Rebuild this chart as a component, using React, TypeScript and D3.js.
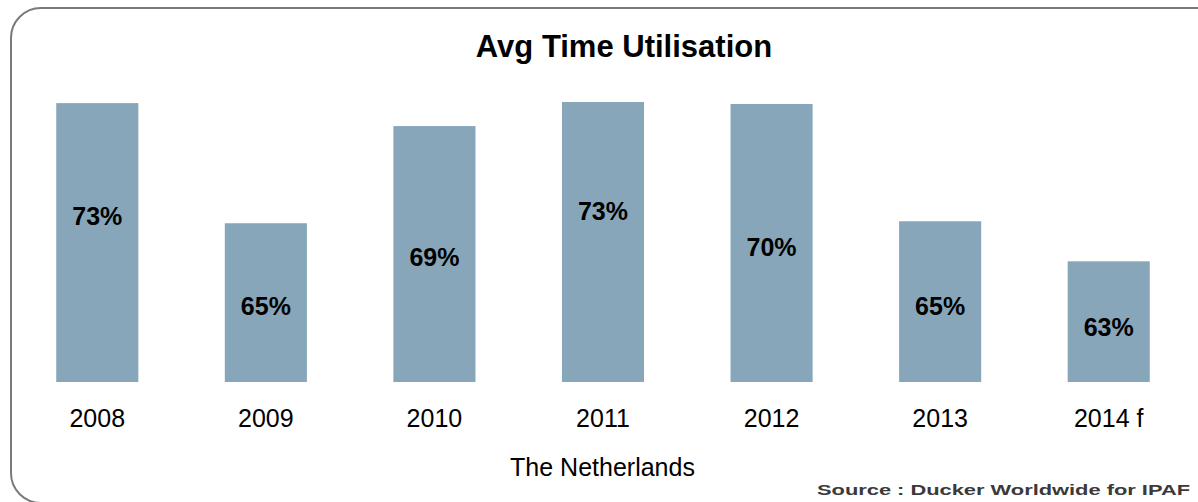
import React from "react";
import * as d3 from "d3";

// ---- data ----
const categories = ["2008", "2009", "2010", "2011", "2012", "2013", "2014 f"];
// utilisation values (labels show the rounded value)
const utilisation = [72.9, 65.0, 69.3, 73.3, 70.2, 65.0, 63.2];
// bar heights as drawn in the source (index, max = 100)
const barIndex = [99.6, 56.7, 91.4, 100, 99.3, 57.4, 43.1];
const titleText = "Avg Time Utilisation";
const axisTitle = "The Netherlands";
const sourceText = "Source : Ducker Worldwide for IPAF";

const W = 1198;
const H = 502;
const FONT = "Arial, 'Liberation Sans', Helvetica, sans-serif";

export default function App() {
  const x = d3
    .scaleBand<string>()
    .domain(categories)
    .range([13, 1193])
    .paddingInner(0.513)
    .paddingOuter(0.2565);
  const yBar = d3.scaleLinear().domain([0, 100]).range([382, 102]);
  const yLabel = d3.scaleLinear().domain([63, 73]).range([337.8, 223.8]);

  // rounded frame (extends past right/bottom edges)
  const fx = 11, fy = 8, fw = 1205, fh = 495, r = 30;
  const framePath = d3.path();
  framePath.moveTo(fx + fw, fy);
  framePath.lineTo(fx + r, fy);
  framePath.arcTo(fx, fy, fx, fy + r, r);
  framePath.lineTo(fx, fy + fh - r);
  framePath.arcTo(fx, fy + fh, fx + r, fy + fh, r);
  framePath.lineTo(fx + fw, fy + fh);

  return (
    <svg
      width={W}
      height={H}
      style={{ position: "absolute", left: 0, top: 0, background: "#fff" }}
    >
      <rect x={0} y={0} width={W} height={H} fill="#fff" />
      <path d={framePath.toString()} fill="none" stroke="#7a7a7a" strokeWidth={2} />
      <text
        x={624}
        y={57}
        textAnchor="middle"
        fontFamily={FONT}
        fontWeight="bold"
        fontSize={31}
        fill="#000"
      >
        {titleText}
      </text>
      {categories.map((c, i) => (
        <rect
          key={c}
          x={x(c)}
          y={yBar(barIndex[i])}
          width={x.bandwidth()}
          height={yBar(0) - yBar(barIndex[i])}
          fill="#87a6b9"
        />
      ))}
      {categories.map((c, i) => (
        <text
          key={"l" + c}
          x={(x(c) as number) + x.bandwidth() / 2}
          y={yLabel(utilisation[i])}
          textAnchor="middle"
          fontFamily={FONT}
          fontWeight="bold"
          fontSize={25}
          fill="#000"
        >
          {d3.format(".0f")(utilisation[i]) + "%"}
        </text>
      ))}
      {categories.map((c) => (
        <text
          key={"t" + c}
          x={(x(c) as number) + x.bandwidth() / 2}
          y={427}
          textAnchor="middle"
          fontFamily={FONT}
          fontSize={25}
          fill="#000"
        >
          {c}
        </text>
      ))}
      <text
        x={602.5}
        y={476}
        textAnchor="middle"
        fontFamily={FONT}
        fontSize={25}
        fill="#000"
      >
        {axisTitle}
      </text>
      <text
        x={817}
        y={495}
        fontFamily={FONT}
        fontWeight="bold"
        fontSize={14}
        fill="#3a3a3a"
        textLength={373}
        lengthAdjust="spacingAndGlyphs"
      >
        {sourceText}
      </text>
    </svg>
  );
}
